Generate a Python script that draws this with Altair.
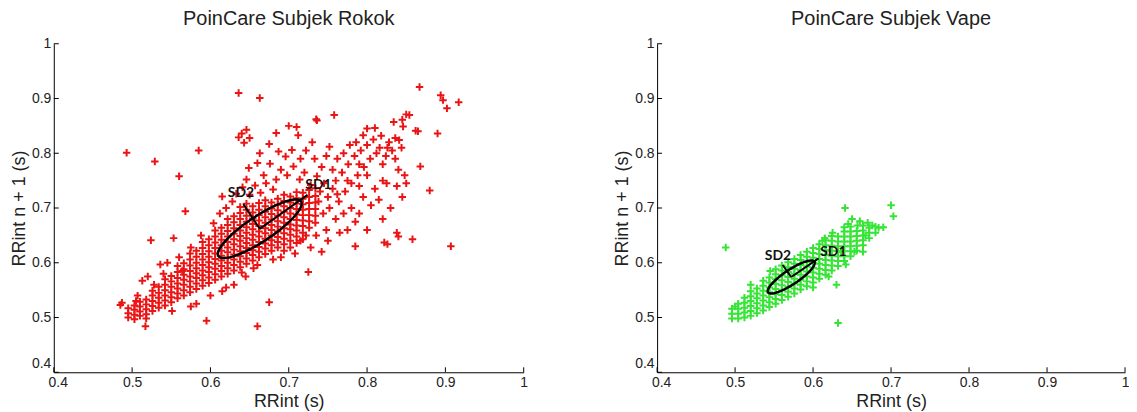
import math
import altair as alt
import pandas as pd

# ---------------- text ----------------
TITLES = ["PoinCare Subjek Rokok", "PoinCare Subjek Vape"]
X_TITLE = "RRint (s)"
Y_TITLE = "RRint n + 1 (s)"
TICKS = [0.4, 0.5, 0.6, 0.7, 0.8, 0.9, 1.0]

# ---------------- Rokok panel (RR_n, RR_n+1 in s) ----------------
# dense band, column by column: x value and the y values seen in that column
rokok_band_x = [0.495, 0.503, 0.510, 0.518, 0.526, 0.534, 0.542, 0.550, 0.558, 0.566,
                0.574, 0.582, 0.590, 0.598, 0.606, 0.614, 0.622, 0.630, 0.638, 0.646,
                0.654, 0.662, 0.670, 0.678, 0.686, 0.694, 0.702, 0.710, 0.718, 0.726, 0.734]
rokok_band_y = [
    [0.500, 0.508, 0.517],
    [0.497, 0.505, 0.514, 0.522],
    [0.503, 0.511, 0.520, 0.529],
    [0.498, 0.506, 0.515, 0.524, 0.533],
    [0.512, 0.521, 0.530, 0.540, 0.549],
    [0.518, 0.527, 0.536, 0.545, 0.556],
    [0.522, 0.531, 0.540, 0.550, 0.560, 0.570],
    [0.528, 0.537, 0.546, 0.556, 0.566, 0.576],
    [0.535, 0.544, 0.553, 0.562, 0.572, 0.583, 0.594],
    [0.540, 0.550, 0.560, 0.569, 0.578, 0.588, 0.599],
    [0.546, 0.556, 0.566, 0.575, 0.585, 0.595, 0.606, 0.617],
    [0.552, 0.562, 0.572, 0.581, 0.590, 0.600, 0.611, 0.622],
    [0.558, 0.568, 0.577, 0.586, 0.596, 0.606, 0.616, 0.627, 0.638],
    [0.563, 0.573, 0.583, 0.592, 0.601, 0.611, 0.621, 0.632, 0.643],
    [0.569, 0.579, 0.589, 0.598, 0.607, 0.617, 0.627, 0.637, 0.648, 0.659],
    [0.575, 0.585, 0.594, 0.604, 0.613, 0.622, 0.632, 0.642, 0.653, 0.664],
    [0.580, 0.590, 0.600, 0.609, 0.619, 0.628, 0.638, 0.648, 0.658, 0.669, 0.680],
    [0.586, 0.596, 0.606, 0.615, 0.624, 0.634, 0.643, 0.653, 0.663, 0.674, 0.685],
    [0.592, 0.602, 0.612, 0.621, 0.630, 0.640, 0.649, 0.659, 0.669, 0.680, 0.691, 0.702],
    [0.598, 0.608, 0.618, 0.627, 0.636, 0.645, 0.655, 0.665, 0.675, 0.686, 0.697, 0.708],
    [0.604, 0.614, 0.623, 0.632, 0.642, 0.651, 0.661, 0.671, 0.681, 0.692, 0.703],
    [0.610, 0.620, 0.629, 0.638, 0.648, 0.657, 0.667, 0.677, 0.687, 0.697, 0.709],
    [0.616, 0.626, 0.635, 0.644, 0.654, 0.663, 0.673, 0.683, 0.693, 0.703, 0.714],
    [0.622, 0.632, 0.641, 0.650, 0.660, 0.669, 0.679, 0.689, 0.699, 0.710],
    [0.628, 0.638, 0.647, 0.657, 0.666, 0.676, 0.686, 0.696, 0.706, 0.717],
    [0.634, 0.644, 0.654, 0.663, 0.673, 0.683, 0.693, 0.703, 0.713, 0.724],
    [0.640, 0.651, 0.661, 0.670, 0.680, 0.690, 0.700, 0.710, 0.721],
    [0.648, 0.659, 0.668, 0.678, 0.688, 0.698, 0.708, 0.718, 0.729],
    [0.655, 0.667, 0.677, 0.687, 0.697, 0.707, 0.717, 0.728],
    [0.664, 0.676, 0.687, 0.698, 0.709, 0.720, 0.733],
    [0.673, 0.686, 0.698, 0.710, 0.722, 0.736],
]
# looser points around the band and isolated points
rokok_scatter = [
    (0.604, 0.672), (0.612, 0.690), (0.620, 0.700), (0.628, 0.712), (0.615, 0.721), (0.633, 0.726),
    (0.641, 0.738), (0.650, 0.724), (0.646, 0.752), (0.657, 0.741), (0.664, 0.728), (0.671, 0.745),
    (0.668, 0.760), (0.680, 0.734), (0.684, 0.752), (0.690, 0.770), (0.676, 0.781), (0.660, 0.782),
    (0.675, 0.817), (0.663, 0.800), (0.687, 0.803), (0.696, 0.794), (0.704, 0.806), (0.684, 0.837),
    (0.700, 0.850), (0.712, 0.833), (0.640, 0.836), (0.646, 0.843), (0.636, 0.829), (0.650, 0.828),
    (0.643, 0.819), (0.649, 0.773), (0.698, 0.760), (0.706, 0.776), (0.715, 0.790), (0.722, 0.805),
    (0.730, 0.820), (0.735, 0.862), (0.758, 0.870), (0.714, 0.752), (0.720, 0.765), (0.728, 0.742),
    (0.736, 0.758), (0.742, 0.775), (0.733, 0.790), (0.748, 0.795), (0.752, 0.812), (0.745, 0.745),
    (0.740, 0.730), (0.710, 0.848),
    (0.738, 0.712), (0.744, 0.690), (0.750, 0.720), (0.756, 0.735), (0.752, 0.700), (0.760, 0.750),
    (0.764, 0.712), (0.768, 0.765), (0.772, 0.730), (0.776, 0.780), (0.780, 0.745), (0.784, 0.795),
    (0.788, 0.760), (0.792, 0.805), (0.796, 0.775), (0.800, 0.815), (0.804, 0.790), (0.808, 0.825),
    (0.812, 0.800), (0.816, 0.810), (0.820, 0.780), (0.824, 0.795), (0.828, 0.820), (0.832, 0.805),
    (0.836, 0.790), (0.840, 0.770), (0.844, 0.810), (0.848, 0.760), (0.836, 0.828), (0.841, 0.824),
    (0.800, 0.845), (0.810, 0.846), (0.845, 0.861), (0.850, 0.871), (0.834, 0.857), (0.846, 0.849),
    (0.854, 0.870), (0.862, 0.841), (0.790, 0.740), (0.770, 0.690), (0.760, 0.680), (0.748, 0.660),
    (0.735, 0.650), (0.780, 0.700), (0.795, 0.720), (0.810, 0.735), (0.820, 0.750), (0.805, 0.705),
    (0.785, 0.675), (0.765, 0.655), (0.750, 0.640), (0.728, 0.628), (0.742, 0.620), (0.775, 0.660),
    (0.790, 0.690), (0.815, 0.715), (0.825, 0.745), (0.838, 0.740), (0.830, 0.700), (0.845, 0.720),
    (0.850, 0.745), (0.820, 0.680), (0.800, 0.660), (0.785, 0.630), (0.822, 0.637), (0.826, 0.634),
    (0.838, 0.655), (0.840, 0.648), (0.858, 0.643), (0.907, 0.630), (0.880, 0.732), (0.868, 0.776),
    (0.890, 0.836), (0.865, 0.840), (0.867, 0.921), (0.894, 0.906), (0.897, 0.897), (0.902, 0.882),
    (0.917, 0.893), (0.736, 0.860), (0.725, 0.583), (0.708, 0.617), (0.715, 0.640), (0.722, 0.650),
    (0.694, 0.622), (0.702, 0.628), (0.710, 0.636), (0.718, 0.643), (0.756, 0.770), (0.762, 0.790),
    (0.770, 0.800), (0.778, 0.815), (0.786, 0.820), (0.795, 0.833), (0.818, 0.832), (0.826, 0.810),
    (0.775, 0.750), (0.762, 0.725), (0.790, 0.780), (0.800, 0.760),
    (0.487, 0.527), (0.485, 0.523), (0.517, 0.484), (0.595, 0.494), (0.660, 0.484), (0.675, 0.528),
    (0.551, 0.512), (0.615, 0.548), (0.536, 0.597), (0.513, 0.567), (0.564, 0.585), (0.524, 0.641),
    (0.553, 0.645), (0.568, 0.694), (0.560, 0.758), (0.529, 0.785), (0.493, 0.801), (0.585, 0.805),
    (0.636, 0.910), (0.663, 0.901), (0.507, 0.540), (0.520, 0.575), (0.540, 0.580), (0.545, 0.600),
    (0.528, 0.560), (0.560, 0.610), (0.575, 0.628), (0.588, 0.650), (0.582, 0.525), (0.600, 0.540),
    (0.630, 0.560), (0.645, 0.575), (0.655, 0.590), (0.690, 0.610), (0.620, 0.555), (0.575, 0.520),
    (0.505, 0.530), (0.640, 0.582), (0.660, 0.596), (0.680, 0.606),
]
rokok_center = (0.663, 0.662)
rokok_semi_axes = (0.073, 0.020)          # along / across the identity line
rokok_sd_end = {"SD1": (0.724, 0.724), "SD2": (0.642, 0.707)}
rokok_sd_label = {"SD1": (0.738, 0.742), "SD2": (0.639, 0.727)}

# ---------------- Vape panel ----------------
vape_band_x = [0.496, 0.504, 0.512, 0.520, 0.528, 0.536, 0.544, 0.552, 0.560, 0.568,
               0.576, 0.584, 0.592, 0.600, 0.608, 0.616, 0.624, 0.632, 0.640, 0.648,
               0.656, 0.664, 0.672, 0.680]
vape_band_y = [
    [0.498, 0.507, 0.516],
    [0.498, 0.507, 0.516, 0.525],
    [0.500, 0.509, 0.518, 0.527, 0.536],
    [0.503, 0.512, 0.521, 0.530, 0.539, 0.548],
    [0.508, 0.517, 0.526, 0.535, 0.544, 0.553],
    [0.513, 0.522, 0.531, 0.540, 0.549, 0.558, 0.567],
    [0.519, 0.528, 0.537, 0.546, 0.555, 0.564, 0.573],
    [0.525, 0.534, 0.543, 0.552, 0.561, 0.570, 0.579, 0.588],
    [0.532, 0.541, 0.550, 0.559, 0.568, 0.577, 0.586, 0.595],
    [0.538, 0.547, 0.556, 0.565, 0.574, 0.583, 0.592, 0.601],
    [0.544, 0.553, 0.562, 0.571, 0.580, 0.589, 0.598, 0.607],
    [0.551, 0.560, 0.569, 0.578, 0.587, 0.596, 0.605, 0.614],
    [0.557, 0.566, 0.575, 0.584, 0.593, 0.602, 0.611, 0.620],
    [0.564, 0.573, 0.582, 0.591, 0.600, 0.609, 0.618, 0.627],
    [0.571, 0.580, 0.589, 0.598, 0.607, 0.616, 0.625, 0.634],
    [0.578, 0.587, 0.596, 0.605, 0.614, 0.623, 0.632, 0.641],
    [0.586, 0.595, 0.604, 0.613, 0.622, 0.631, 0.640, 0.649],
    [0.594, 0.603, 0.612, 0.621, 0.630, 0.639, 0.648],
    [0.603, 0.612, 0.621, 0.630, 0.639, 0.648, 0.657],
    [0.612, 0.621, 0.630, 0.639, 0.648, 0.657, 0.666],
    [0.622, 0.631, 0.640, 0.649, 0.658],
    [0.632, 0.641, 0.650, 0.659, 0.668],
    [0.645, 0.655, 0.664],
    [0.655, 0.666],
]
vape_scatter = [
    (0.488, 0.628), (0.632, 0.490), (0.630, 0.560), (0.641, 0.700), (0.700, 0.705), (0.703, 0.685),
    (0.645, 0.671), (0.660, 0.676), (0.670, 0.673), (0.684, 0.664), (0.653, 0.620), (0.664, 0.620),
    (0.640, 0.665), (0.625, 0.655), (0.612, 0.640), (0.636, 0.620), (0.657, 0.668), (0.676, 0.668),
    (0.650, 0.680), (0.620, 0.575), (0.600, 0.555), (0.615, 0.645), (0.690, 0.665), (0.667, 0.650),
    (0.642, 0.597), (0.520, 0.560), (0.545, 0.585), (0.500, 0.520),
]
vape_center = (0.572, 0.574)
vape_semi_axes = (0.041, 0.0115)
vape_sd_end = {"SD1": (0.607, 0.608), "SD2": (0.561, 0.596)}
vape_sd_label = {"SD1": (0.626, 0.619), "SD2": (0.555, 0.612)}

COLORS = ["#ea1414", "#36e436"]
CROSS = "M-1,0L1,0M0,-1L0,1"
H = 330
WIDTHS = [472, 470]


def points_frame(band_x, band_y, scatter):
    rows = [(x, y) for x, ys in zip(band_x, band_y) for y in ys] + list(scatter)
    return pd.DataFrame(rows, columns=["x", "y"])


def ellipse_frame(center, semi):
    cx, cy = center
    a, b = semi
    c = s = math.sqrt(0.5)
    rows = []
    for i in range(97):
        t = 2 * math.pi * i / 96
        u, v = a * math.cos(t), b * math.sin(t)
        rows.append({"i": i, "x": cx + u * c - v * s, "y": cy + u * s + v * c})
    return pd.DataFrame(rows)


def panel(title, pts, color, center, semi, ends, labels, width):
    xs = alt.Scale(domain=[0.4, 1.0], nice=False, zero=False)
    ys = alt.Scale(domain=[0.4, 1.0], nice=False, zero=False)
    xax = alt.Axis(values=TICKS, format="~g", title=X_TITLE,
                   labelOffset={"condition": {"test": "datum.value == 0.4", "value": 4}, "value": 0})
    yax = alt.Axis(values=TICKS, format="~g", title=Y_TITLE,
                   labelOffset={"condition": {"test": "datum.value == 0.4", "value": -9}, "value": 0})

    def X(field="x"):
        return alt.X(f"{field}:Q", scale=xs, axis=xax)

    def Y(field="y"):
        return alt.Y(f"{field}:Q", scale=ys, axis=yax)

    pts_layer = alt.Chart(pts).mark_point(
        shape=CROSS, filled=False, size=56, strokeWidth=2.0, color=color, opacity=1
    ).encode(x=X(), y=Y())

    xtick_df = pd.DataFrame({"x": TICKS})
    ytick_df = pd.DataFrame({"y": TICKS})
    xt = alt.Chart(xtick_df).mark_rule(color="black", strokeWidth=1).encode(
        x=X(), y=alt.value(H), y2=alt.value(H - 5))
    yt = alt.Chart(ytick_df).mark_rule(color="black", strokeWidth=1).encode(
        y=Y(), x=alt.value(0), x2=alt.value(5))

    ell = alt.Chart(ellipse_frame(center, semi)).mark_line(
        color="black", strokeWidth=2.5
    ).encode(x=X(), y=Y(), order="i:Q")

    seg_df = pd.DataFrame([{"x": center[0], "y": center[1], "x2": e[0], "y2": e[1]}
                           for e in ends.values()])
    seg = alt.Chart(seg_df).mark_rule(color="black", strokeWidth=2).encode(
        x=X(), y=Y(), x2="x2:Q", y2="y2:Q")

    lab_df = pd.DataFrame([{"t": k, "x": v[0], "y": v[1]} for k, v in labels.items()])
    txt = alt.Chart(lab_df).mark_text(
        font="Lato", fontWeight="bold", fontSize=14, color="#111"
    ).encode(x=X(), y=Y(), text="t:N")

    return alt.layer(pts_layer, xt, yt, ell, seg, txt).properties(
        width=width, height=H,
        title=alt.TitleParams(title, font="Liberation Sans", fontSize=20, fontWeight="normal",
                              color="#222", anchor="middle", offset=8),
    )


left = panel(TITLES[0], points_frame(rokok_band_x, rokok_band_y, rokok_scatter), COLORS[0],
             rokok_center, rokok_semi_axes, rokok_sd_end, rokok_sd_label, WIDTHS[0])
right = panel(TITLES[1], points_frame(vape_band_x, vape_band_y, vape_scatter), COLORS[1],
              vape_center, vape_semi_axes, vape_sd_end, vape_sd_label, WIDTHS[1])

chart = alt.hconcat(left, right, spacing=86).properties(
    padding={"left": 2, "top": 0, "right": 0, "bottom": 0}
).configure_view(stroke=None).configure_axis(
    grid=False, ticks=False, domainColor="black", domainWidth=1,
    labelFont="Liberation Sans", labelFontSize=14, labelColor="#222", labelPadding=3,
    labelFlush=False, labelOverlap=False,
    titleFont="Liberation Sans", titleFontSize=18, titleFontWeight="normal", titleColor="#222",
    titlePadding=3,
)

chart.save("out.html", embed_options={"renderer": "svg", "actions": False})
